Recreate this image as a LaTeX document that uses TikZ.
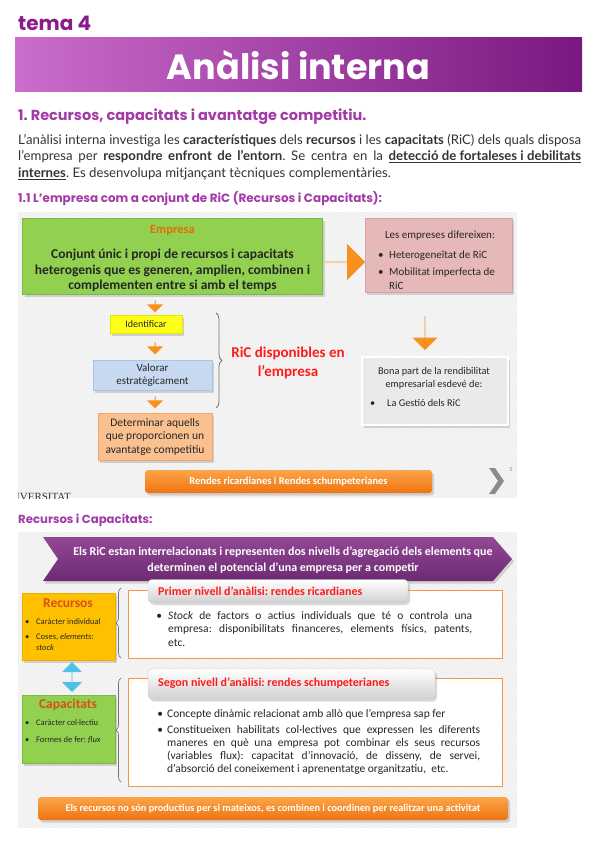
\documentclass[tikz,border=0pt]{standalone}
\usepackage{fontspec}
\setmainfont{Carlito}
\newfontfamily\parafont{Lato}
\newfontfamily\titlefont{Poppins}
\newfontfamily\serifont{Liberation Serif}
\usetikzlibrary{shapes.arrows,shadows,decorations.pathreplacing,patterns}
\setlength{\parindent}{0pt}
\frenchspacing
\definecolor{tpurple}{HTML}{8B1A8C}
\definecolor{barL}{HTML}{CB6DCC}
\definecolor{barR}{HTML}{791880}
\definecolor{hpurple}{HTML}{A23BA6}
\definecolor{parcol}{HTML}{333333}
\definecolor{dk}{HTML}{262626}
\definecolor{panel}{HTML}{EDEDED}
\definecolor{greenfill}{HTML}{92D050}
\definecolor{greenbd}{HTML}{7DB843}
\definecolor{empcol}{HTML}{E36C09}
\definecolor{arrowor}{HTML}{F7901E}
\definecolor{pinkfill}{HTML}{E6B9B8}
\definecolor{pinkbd}{HTML}{D7A3A2}
\definecolor{yelfill}{HTML}{FFFF1A}
\definecolor{yelbd}{HTML}{E6E600}
\definecolor{bluefill}{HTML}{C6D9F1}
\definecolor{bluebd}{HTML}{A9C4E6}
\definecolor{detfill}{HTML}{FBC08F}
\definecolor{detbd}{HTML}{F3A76B}
\definecolor{bonafill}{HTML}{EAEAEA}
\definecolor{ricred}{HTML}{FF1A1A}
\definecolor{recfill}{HTML}{FFC000}
\definecolor{recbd}{HTML}{E8AE00}
\definecolor{titred}{HTML}{D6501A}
\definecolor{dblcyan}{HTML}{4FC1E9}
\definecolor{wbd}{HTML}{F79646}
\definecolor{orTop}{HTML}{FBA54A}
\definecolor{orBot}{HTML}{EE7410}
\definecolor{banTop}{HTML}{924896}
\definecolor{banBot}{HTML}{6C2A71}
\begin{document}
\begin{tikzpicture}[x=1pt,y=-1pt,
  txt/.style={inner sep=0pt, text=dk},
  shadowed/.style={drop shadow={opacity=0.3,shadow xshift=2pt,shadow yshift=-2.5pt}},
  fatdown/.style={single arrow, shape border rotate=270, fill=arrowor, inner sep=0pt, single arrow head indent=0pt},
  orbar/.style={rounded corners=3pt, top color=orTop, bottom color=orBot, inner sep=0pt, text=white, shadowed},
  tab/.style={rounded corners=4pt, top color=white, bottom color=black!18, draw=black!20, inner sep=0pt, shadowed},
  wbox/.style={draw=wbd, line width=0.8pt, fill=white, inner sep=0pt},
  hatch/.style={pattern=north east lines, pattern color=white}
]
\useasboundingbox (0,0) rectangle (599,848);
\fill[white] (0,0) rectangle (599,848);

% ---------- header ----------
\node[anchor=west, inner sep=0pt, text=tpurple, font=\titlefont\bfseries\fontsize{20}{20}\selectfont] (tema) at (18,23) {tema 4};
\node[minimum width=567, minimum height=54, inner sep=0pt, left color=barL, right color=barR, text=white,
      font=\titlefont\bfseries\fontsize{35}{35}\selectfont] (bar) at (298.5,65) {Anàlisi interna};

\node[anchor=west, inner sep=0pt, text=hpurple, font=\titlefont\bfseries\fontsize{14.5}{16}\selectfont] (h1) at (18,117) {1. Recursos, capacitats i avantatge competitiu.};

\node[anchor=north west, inner sep=0pt, align=left, text=parcol,
      font=\parafont\fontsize{13.2}{16.5}\selectfont] (para) at (18,134)
 {\makebox[563pt][s]{L’anàlisi interna investiga les \textbf{característiques} dels \textbf{recursos} i les \textbf{capacitats} (RiC) dels quals disposa}\\
  \makebox[563pt][s]{l’empresa per \textbf{respondre enfront de l’entorn}. Se centra en la \underline{\textbf{detecció de fortaleses i debilitats}}}\\
  \underline{\textbf{internes}}. Es desenvolupa mitjançant tècniques complementàries.};

\node[anchor=west, inner sep=0pt, text=hpurple, font=\titlefont\bfseries\fontsize{12}{14}\selectfont] (h2) at (18,199) {1.1 L’empresa com a conjunt de RiC (Recursos i Capacitats):};

% ---------- diagram 1 ----------
\fill[panel] (18,212) rectangle (517,498);
\fill[hatch] (18,212) rectangle (517,498);

\node[draw=greenbd, line width=1.2pt, fill=greenfill, minimum width=300, minimum height=76, inner sep=0pt, shadowed] (emp) at (172.5,256.5) {};
\node[txt, text=empcol, font=\bfseries\fontsize{12.5}{14}\selectfont] (empt) at (172.5,230) {Empresa};
\node[txt, align=center, font=\bfseries\fontsize{13.5}{15.5}\selectfont] (empx) at (172.5,270.5)
 {Conjunt únic i propi de recursos i capacitats\\heterogenis que es generen, amplien, combinen i\\complementen entre si amb el temps};

\node[single arrow, fill=arrowor, minimum height=40, minimum width=36, single arrow head extend=8, inner sep=0pt] (a1) at (345,262) {};

\node[draw=pinkbd, line width=1pt, fill=pinkfill, minimum width=147, minimum height=74, inner sep=0pt, shadowed] (dif) at (438.5,255) {};
\node[txt, font=\fontsize{11}{12}\selectfont] (dift) at (440,236) {Les empreses difereixen:};
\node[txt, anchor=west, font=\fontsize{11}{12}\selectfont] (d1) at (378,256) {\makebox[11pt][l]{•}Heterogeneïtat de RiC};
\node[txt, anchor=west, font=\fontsize{11}{12}\selectfont] (d2) at (378,273) {\makebox[11pt][l]{•}Mobilitat imperfecta de};
\node[txt, anchor=west, font=\fontsize{11}{12}\selectfont] (d3) at (389,286) {RiC};

\node[fatdown, minimum height=34, minimum width=25, single arrow head extend=6] (a2) at (425,333) {};

\node[draw=white, line width=1.5pt, fill=bonafill, minimum width=146, minimum height=68, inner sep=0pt, shadowed] (bona) at (435,391) {};
\node[txt, font=\fontsize{10.3}{12}\selectfont] (bona1) at (434,372) {Bona part de la rendibilitat};
\node[txt, font=\fontsize{10.3}{12}\selectfont] (bona2) at (434,385) {empresarial esdevé de:};
\node[txt, anchor=west, font=\fontsize{10.3}{12}\selectfont] (bona3) at (370,403) {\makebox[17pt][l]{•}La Gestió dels RiC};

\node[fatdown, minimum height=12, minimum width=16, single arrow head extend=3] (s1) at (155,306) {};
\node[draw=yelbd, line width=1pt, fill=yelfill, minimum width=72, minimum height=18, inner sep=0pt, shadowed,
      font=\fontsize{10}{12}\selectfont, text=dk] (idf) at (146,324) {Identificar};
\node[fatdown, minimum height=12, minimum width=16, single arrow head extend=3] (s2) at (155,348) {};
\node[draw=bluebd, line width=1pt, fill=bluefill, minimum width=119, minimum height=30, inner sep=0pt, shadowed,
      align=center, font=\fontsize{11}{13.5}\selectfont, text=dk] (val) at (152.5,375) {Valorar\\estratègicament};
\node[fatdown, minimum height=12, minimum width=16, single arrow head extend=3] (s3) at (155,402) {};
\node[draw=detbd, line width=1pt, fill=detfill, minimum width=114, minimum height=47, inner sep=0pt, shadowed,
      align=center, font=\fontsize{11.5}{13.5}\selectfont, text=dk] (det) at (155,436.5) {Determinar aquells\\que proporcionen un\\avantatge competitiu};

\coordinate (br1a) at (216,313);
\coordinate (br1b) at (216,408);
\draw[decorate, decoration={brace, amplitude=6pt}, black!55, line width=0.8pt] (br1a) -- (br1b);
\node[txt, text=ricred, align=center, font=\bfseries\fontsize{15}{19}\selectfont] (ric) at (288,363) {RiC disponibles en\\l’empresa};

\node[orbar, minimum width=287, minimum height=23, font=\bfseries\fontsize{10.5}{12}\selectfont] (rend) at (288.5,481.5) {Rendes ricardianes i Rendes schumpeterianes};

\fill[black!45] (489,468) -- (495,468) -- (504,481) -- (495,494) -- (489,494) -- (498,481) -- cycle;
\node[txt, text=black!50, font=\fontsize{6}{7}\selectfont] (pg) at (511,470) {5};

\begin{scope}
\clip (18,212) rectangle (517,498);
\node[txt, anchor=west, text=black!80, font=\serifont\fontsize{11}{11}\selectfont] (univ) at (16,497) {IVERSITAT};
\end{scope}

% ---------- diagram 2 ----------
\node[anchor=west, inner sep=0pt, text=hpurple, font=\titlefont\bfseries\fontsize{11.7}{13}\selectfont] (h3) at (18,520) {Recursos i Capacitats:};

\fill[panel] (18,532) rectangle (517,828);
\fill[hatch] (18,532) rectangle (517,828);

\shade[top color=banTop, bottom color=banBot, drop shadow={opacity=0.3,shadow xshift=2pt,shadow yshift=-2.5pt}]
  (43,537) -- (493,537) -- (512,559) -- (493,581) -- (43,581) -- (58,559) -- cycle;
\node[txt, text=white, align=center, font=\bfseries\fontsize{12}{16}\selectfont] (bant) at (283,560)
 {Els RiC estan interrelacionats i representen dos nivells d’agregació dels elements que\\determinen el potencial d’una empresa per a competir};

\node[draw=recbd, line width=1pt, fill=recfill, minimum width=93, minimum height=67, inner sep=0pt, shadowed] (rec) at (68.5,626.5) {};
\node[txt, text=titred, font=\bfseries\fontsize{13.5}{15}\selectfont] (rect) at (68,603) {Recursos};
\node[txt, anchor=west, font=\fontsize{8.5}{10}\selectfont] (r1) at (25,622) {\makebox[11pt][l]{•}Caràcter individual};
\node[txt, anchor=west, font=\fontsize{8.5}{10}\selectfont] (r2) at (25,637) {\makebox[11pt][l]{•}Coses, \textit{elements}:};
\node[txt, anchor=west, font=\fontsize{8.5}{10}\selectfont] (r3) at (36,648) {\textit{stock}};

\node[double arrow, shape border rotate=90, fill=dblcyan, minimum height=30, minimum width=20, double arrow head extend=4, inner sep=0pt] (dbl) at (72,677) {};

\node[draw=greenbd, line width=1pt, fill=greenfill, minimum width=93, minimum height=68, inner sep=0pt, shadowed] (cap) at (68.5,729) {};
\node[txt, text=titred, font=\bfseries\fontsize{13.5}{15}\selectfont] (capt) at (68,705) {Capacitats};
\node[txt, anchor=west, font=\fontsize{8.5}{10}\selectfont] (c1) at (25,723) {\makebox[11pt][l]{•}Caràcter col·lectiu};
\node[txt, anchor=west, font=\fontsize{8.5}{10}\selectfont] (c2) at (25,740) {\makebox[11pt][l]{•}Formes de fer: \textit{flux}};

\coordinate (br2a) at (121,658);
\coordinate (br2b) at (121,588);
\coordinate (br3a) at (121,782);
\coordinate (br3b) at (121,678);
\draw[decorate, decoration={brace, amplitude=5pt}, black!55, line width=0.7pt] (br2a) -- (br2b);
\draw[decorate, decoration={brace, amplitude=5pt}, black!55, line width=0.7pt] (br3a) -- (br3b);

\node[wbox, minimum width=374, minimum height=68] (wb1) at (315,624) {};
\node[tab, minimum width=260, minimum height=23] (tab1) at (278,591) {};
\node[txt, anchor=west, text=ricred, font=\bfseries\fontsize{12}{14}\selectfont] (tab1t) at (158,591) {Primer nivell d’anàlisi: rendes ricardianes};
\node[txt, anchor=north west, align=left, font=\fontsize{11.5}{13.5}\selectfont] (t1) at (168,611)
 {\llap{•\hspace{6pt}}\makebox[304pt][s]{\textit{Stock} de factors o actius individuals que té o controla una}\\
  \makebox[304pt][s]{empresa: disponibilitats financeres, elements físics, patents,}\\
  etc.};

\node[wbox, minimum width=374, minimum height=108] (wb2) at (315,732) {};
\node[tab, minimum width=287, minimum height=30] (tab2) at (291.5,684) {};
\node[txt, anchor=west, text=ricred, font=\bfseries\fontsize{12}{14}\selectfont] (tab2t) at (158,683) {Segon nivell d’anàlisi: rendes schumpeterianes};
\node[txt, anchor=north west, align=left, font=\fontsize{11.5}{13}\selectfont] (t2) at (167,709)
 {\llap{•\hspace{4pt}}Concepte dinàmic relacionat amb allò que l’empresa sap fer\\[3pt]
  \llap{•\hspace{4pt}}\makebox[313pt][s]{Constitueixen habilitats col·lectives que expressen les diferents}\\
  \makebox[313pt][s]{maneres en què una empresa pot combinar els seus recursos}\\
  \makebox[313pt][s]{(variables flux): capacitat d’innovació, de disseny, de servei,}\\
  d’absorció del coneixement i aprenentatge organitzatiu,~ etc.};

\node[orbar, minimum width=470, minimum height=23, font=\bfseries\fontsize{10.3}{12}\selectfont] (bot) at (273,808.5)
 {Els recursos no són productius per si mateixos, es combinen i coordinen per realitzar una activitat};
\end{tikzpicture}
\end{document}
